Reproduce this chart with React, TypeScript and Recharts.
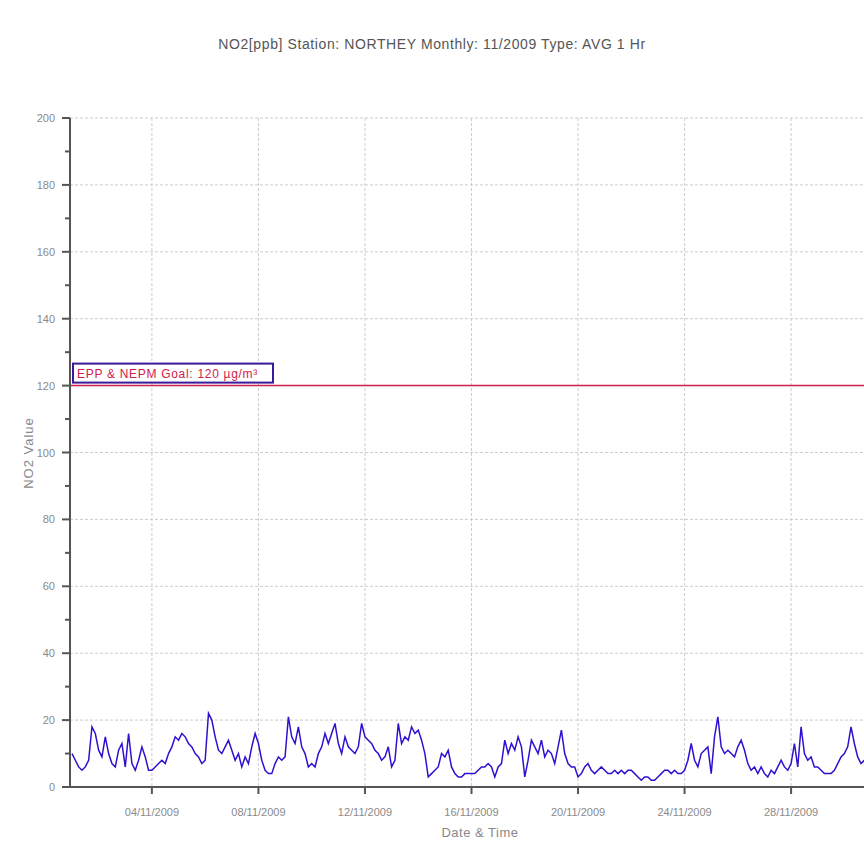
import React from 'react';
import { LineChart, Line, XAxis, YAxis, CartesianGrid, ReferenceLine } from 'recharts';

// 3-hourly NO2 values (ppb), 01/11/2009 00:00 onwards, 8 per day
const day01 = [10, 8, 6, 5, 6, 8, 18, 16];
const day02 = [11, 9, 15, 10, 7, 6, 11, 13];
const day03 = [6, 16, 7, 5, 8, 12, 9, 5];
const day04 = [5, 6, 7, 8, 7, 10, 12, 15];
const day05 = [14, 16, 15, 13, 12, 10, 9, 7];
const day06 = [8, 22, 20, 15, 11, 10, 12, 14];
const day07 = [11, 8, 10, 6, 9, 7, 12, 16];
const day08 = [13, 8, 5, 4, 4, 7, 9, 8];
const day09 = [9, 21, 15, 13, 18, 12, 10, 6];
const day10 = [7, 6, 10, 12, 16, 13, 16, 19];
const day11 = [13, 10, 15, 12, 11, 10, 12, 19];
const day12 = [15, 14, 13, 11, 10, 8, 9, 12];
const day13 = [6, 8, 19, 13, 15, 14, 18, 16];
const day14 = [17, 14, 10, 3, 4, 5, 6, 10];
const day15 = [9, 11, 6, 4, 3, 3, 4, 4];
const day16 = [4, 4, 5, 6, 6, 7, 6, 3];
const day17 = [6, 7, 14, 10, 13, 11, 15, 12];
const day18 = [3, 8, 14, 12, 10, 14, 9, 11];
const day19 = [10, 7, 12, 17, 10, 7, 6, 6];
const day20 = [3, 4, 6, 7, 5, 4, 5, 6];
const day21 = [5, 4, 4, 5, 4, 5, 4, 5];
const day22 = [5, 4, 3, 2, 3, 3, 2, 2];
const day23 = [3, 4, 5, 5, 4, 5, 4, 4];
const day24 = [5, 8, 13, 8, 6, 10, 11, 12];
const day25 = [4, 15, 21, 12, 10, 11, 10, 9];
const day26 = [12, 14, 11, 7, 5, 6, 4, 6];
const day27 = [4, 3, 5, 4, 6, 8, 6, 5];
const day28 = [7, 13, 6, 18, 10, 8, 9, 6];
const day29 = [6, 5, 4, 4, 4, 5, 7, 9];
const day30 = [10, 12, 18, 13, 9, 7, 8, 8];

const dailyValues = [
  day01, day02, day03, day04, day05, day06, day07, day08, day09, day10,
  day11, day12, day13, day14, day15, day16, day17, day18, day19, day20,
  day21, day22, day23, day24, day25, day26, day27, day28, day29, day30,
];

const xTickDays = [3, 7, 11, 15, 19, 23, 27];
const xTickLabels = ['04/11/2009', '08/11/2009', '12/11/2009', '16/11/2009', '20/11/2009', '24/11/2009', '28/11/2009'];
const yTicks = [0, 10, 20, 30, 40, 50, 60, 70, 80, 90, 100, 110, 120, 130, 140, 150, 160, 170, 180, 190, 200];
const yGridValues = [20, 40, 60, 80, 100, 120, 140, 160, 180, 200];
const goalValue = 120;
const goalLabel = 'EPP & NEPM Goal: 120 µg/m³';
const titleText = 'NO2[ppb] Station: NORTHEY Monthly: 11/2009 Type: AVG 1 Hr';

const data = dailyValues.flat().map((v, i) => ({ t: i / 8, v }));

const FONT = '"Liberation Sans", Arial, sans-serif';
const AXIS_COLOR = '#555';
const TICK_COLOR = '#8a8a8a';

const Y_TICK_SIZE = 8;
const Y_TICK_MARGIN = 7;

const YTick = (props: any) => {
  const { x, y, payload } = props;
  const axisX = x + Y_TICK_SIZE + Y_TICK_MARGIN;
  const major = payload.value % 20 === 0;
  return (
    <g>
      <line x1={axisX - (major ? 8 : 5)} x2={axisX} y1={y} y2={y} stroke={AXIS_COLOR} strokeWidth={2} />
      {major && (
        <text x={x} y={y} dy={4} textAnchor="end" fill={TICK_COLOR} fontSize={11} fontFamily={FONT}>
          {payload.value}
        </text>
      )}
    </g>
  );
};

const GoalLabel = (props: any) => {
  const vb = props.viewBox || {};
  const x = vb.x + 3;
  const y = vb.y - 22;
  return (
    <g>
      <rect x={x} y={y} width={200} height={19} fill="#fff" stroke="#3a1a9a" strokeWidth={2} />
      <text x={x + 4} y={y + 14} fill="#d0204a" fontSize={12} letterSpacing={0.7} fontFamily={FONT}>
        {goalLabel}
      </text>
    </g>
  );
};

export default function App() {
  return (
    <div style={{ position: 'fixed', left: 0, top: 0, width: 864, height: 843, overflow: 'hidden', background: '#fff' }}>
      <div
        style={{
          position: 'absolute', left: 0, top: 36, width: 864, textAlign: 'center',
          fontFamily: FONT, fontSize: 14, letterSpacing: 0.6, color: '#555', whiteSpace: 'nowrap',
        }}
      >
        {titleText}
      </div>
      <LineChart width={880} height={843} data={data} margin={{ top: 118, right: 9, left: 0, bottom: 0 }}>
        <CartesianGrid
          stroke="#cccccc"
          strokeDasharray="3 2"
          horizontalValues={yGridValues}
          verticalValues={xTickDays}
        />
        <XAxis
          dataKey="t"
          type="number"
          domain={[-0.075, 30]}
          allowDataOverflow
          ticks={xTickDays}
          tickFormatter={(v: number) => xTickLabels[xTickDays.indexOf(v)] ?? ''}
          height={56}
          tickSize={7}
          tickMargin={14}
          tick={{ fill: TICK_COLOR, fontSize: 11, fontFamily: FONT }}
          axisLine={{ stroke: AXIS_COLOR, strokeWidth: 2 }}
          tickLine={{ stroke: AXIS_COLOR, strokeWidth: 2 }}
        />
        <YAxis
          type="number"
          domain={[0, 200]}
          ticks={yTicks}
          interval={0}
          width={70}
          tickSize={Y_TICK_SIZE}
          tickMargin={Y_TICK_MARGIN}
          tickLine={false}
          tick={<YTick />}
          axisLine={{ stroke: AXIS_COLOR, strokeWidth: 2 }}
        />
        <ReferenceLine y={goalValue} stroke="#d0204a" strokeWidth={1.5} label={<GoalLabel />} />
        <Line
          type="linear"
          dataKey="v"
          stroke="#3010d0"
          strokeWidth={1.5}
          dot={false}
          isAnimationActive={false}
        />
      </LineChart>
      <div
        style={{
          position: 'absolute', left: 0, top: 453, width: 0, height: 0,
        }}
      >
        <div
          style={{
            position: 'absolute', left: 28, top: 0, transform: 'translate(-50%, -50%) rotate(-90deg)',
            fontFamily: FONT, fontSize: 13, letterSpacing: 1, color: '#888', whiteSpace: 'nowrap',
          }}
        >
          NO2 Value
        </div>
      </div>
      <div
        style={{
          position: 'absolute', left: 375, top: 825, width: 210, textAlign: 'center',
          fontFamily: FONT, fontSize: 13, letterSpacing: 0.5, color: '#888', whiteSpace: 'nowrap',
        }}
      >
        Date &amp; Time
      </div>
    </div>
  );
}
